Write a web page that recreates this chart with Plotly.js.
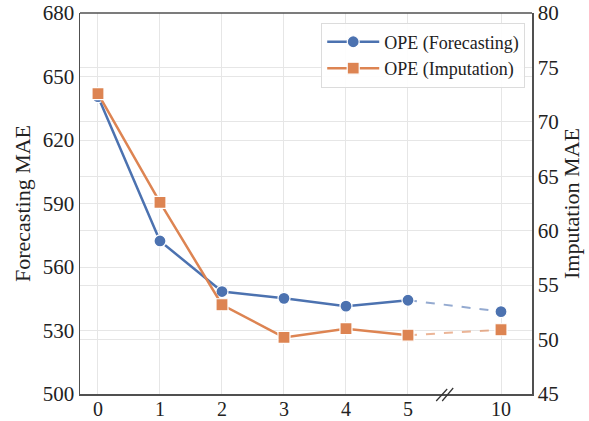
<!DOCTYPE html>
<html>
<head>
<meta charset="utf-8">
<script src="https://cdn.plot.ly/plotly-3.0.1.min.js"></script>
<style>html,body{margin:0;padding:0;background:#fff;}#chart{width:589px;height:421px;}</style>
</head>
<body>
<div id="chart"></div>
<script>
// ---- data ----
const xLabels = ['0', '1', '2', '3', '4', '5', '10'];
const forecastingMAE = [640.5, 572.3, 548.4, 545.2, 541.5, 544.3, 538.9];
const imputationMAE = [72.6, 62.6, 53.2, 50.2, 51.0, 50.4, 50.9];
const seriesNames = ['OPE (Forecasting)', 'OPE (Imputation)'];
const leftTicks = [500, 530, 560, 590, 620, 650, 680];
const rightTicks = [45, 50, 55, 60, 65, 70, 75, 80];

// ---- layout helpers ----
const GAP = 1.5; // broken-axis spacing before the last category
const xPos = xLabels.map((_, i) => i < xLabels.length - 1 ? i : (i - 1) + GAP);
const nSolid = xLabels.length - 1;
const blue = '#4C72B0', orange = '#DD8452';
const font = 'Liberation Serif, Times New Roman, serif';
const axisColor = '#505050';

function solidTrace(y, name, color, symbol, yaxis) {
  return {
    x: xPos.slice(0, nSolid), y: y.slice(0, nSolid), name: name, yaxis: yaxis,
    mode: 'lines+markers', line: {color: color, width: 2.5},
    marker: {symbol: symbol, size: 12, color: color, line: {color: '#fff', width: 1.2}}
  };
}
function dashTrace(y, color, yaxis) {
  return {
    x: xPos.slice(nSolid - 1), y: y.slice(nSolid - 1), yaxis: yaxis, showlegend: false,
    mode: 'lines', opacity: 0.6, line: {color: color, width: 2, dash: 'dash'}, hoverinfo: 'skip'
  };
}
function lastMarker(y, color, symbol, yaxis) {
  return {
    x: xPos.slice(nSolid), y: y.slice(nSolid), yaxis: yaxis, showlegend: false,
    mode: 'markers',
    marker: {symbol: symbol, size: 12, color: color, line: {color: '#fff', width: 1.2}}
  };
}

const traces = [
  dashTrace(forecastingMAE, blue, 'y'),
  dashTrace(imputationMAE, orange, 'y2'),
  solidTrace(forecastingMAE, seriesNames[0], blue, 'circle', 'y'),
  solidTrace(imputationMAE, seriesNames[1], orange, 'square', 'y2'),
  lastMarker(forecastingMAE, blue, 'circle', 'y'),
  lastMarker(imputationMAE, orange, 'square', 'y2')
];

const axisCommon = {
  showline: true, linecolor: axisColor, linewidth: 1.5,
  gridcolor: '#e6e6e6', gridwidth: 1, zeroline: false,
  tickfont: {family: font, size: 21, color: '#222'}, ticks: '', ticklen: 0
};

// broken-axis mark position (between the last two categories)
const breakX = xPos[nSolid - 1] + 0.6;

const layout = {
  width: 589, height: 421,
  margin: {l: 80, r: 57, t: 13, b: 27},
  paper_bgcolor: '#fff', plot_bgcolor: '#fff',
  font: {family: font, color: '#222'},
  showlegend: true,
  legend: {
    x: 0.985, y: 0.975, xanchor: 'right', yanchor: 'top',
    bgcolor: 'rgba(255,255,255,0.9)', bordercolor: '#dcdcdc', borderwidth: 1,
    font: {family: font, size: 18, color: '#222'}, itemwidth: 52
  },
  xaxis: Object.assign({}, axisCommon, {
    range: [-0.29, 7.0], tickvals: xPos, ticktext: xLabels,
    tickfont: {family: font, size: 20, color: '#222'}, ticklabelstandoff: -4
  }),
  yaxis: Object.assign({}, axisCommon, {
    range: [500, 680], tickvals: leftTicks,
    title: {text: 'Forecasting MAE', font: {family: font, size: 22, color: '#222'}, standoff: 6}
  }),
  yaxis2: Object.assign({}, axisCommon, {
    range: [45, 80], tickvals: rightTicks, overlaying: 'y', side: 'right',
    title: {text: 'Imputation MAE', font: {family: font, size: 22, color: '#222'}, standoff: 4}
  }),
  shapes: [
    {type: 'line', xref: 'paper', yref: 'paper', x0: 0, x1: 1, y0: 1, y1: 1,
     line: {color: axisColor, width: 1.5}},
    {type: 'line', xref: 'x', yref: 'paper', xsizemode: 'pixel', ysizemode: 'pixel',
     xanchor: breakX, yanchor: 0, x0: -9, x1: 2, y0: -7, y1: 5,
     line: {color: '#333', width: 1.2}},
    {type: 'line', xref: 'x', yref: 'paper', xsizemode: 'pixel', ysizemode: 'pixel',
     xanchor: breakX, yanchor: 0, x0: -3, x1: 8, y0: -7, y1: 6,
     line: {color: '#333', width: 1.2}}
  ]
};

Plotly.newPlot('chart', traces, layout, {displayModeBar: false, staticPlot: true});
</script>
</body>
</html>
